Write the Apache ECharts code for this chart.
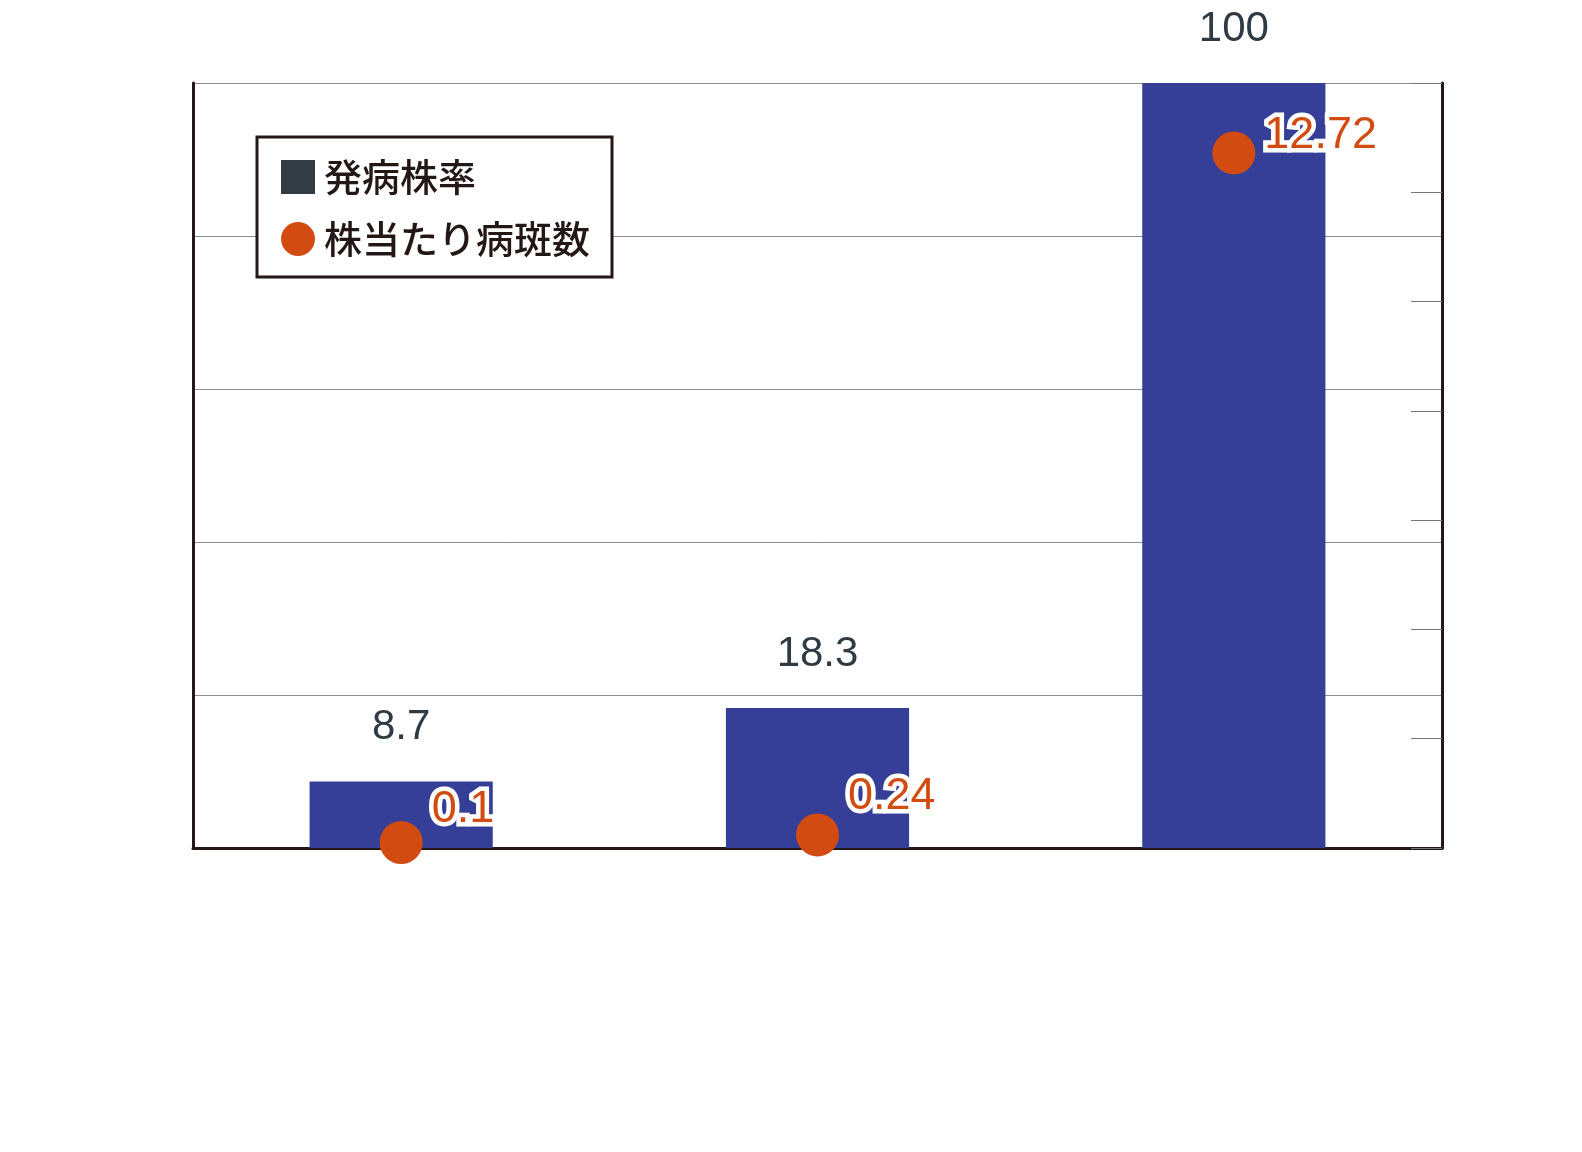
<!DOCTYPE html>
<html>
<head>
<meta charset="utf-8">
<script src="https://cdn.jsdelivr.net/npm/echarts@6/dist/echarts.min.js"></script>
<style>
html,body{margin:0;padding:0;background:#fff;}
#chart{width:1582px;height:1152px;}
</style>
</head>
<body>
<div id="chart"></div>
<script>
const categories = ['A', 'B', 'C'];
const barName = '発病株率';
const scatterName = '株当たり病斑数';
const barValues = [8.7, 18.3, 100];
const scatterValues = [0.1, 0.24, 12.72];
const leftAxisMax = 100, leftAxisInterval = 20;
const rightAxisMax = 14, rightAxisInterval = 2;

const labelLift = [-33, -38, -17];
const dark = '#231815';

const chart = echarts.init(document.getElementById('chart'));
chart.setOption({
  animation: false,
  backgroundColor: '#fff',
  grid: { left: 193, right: 140, top: 83, bottom: 304 },
  legend: {
    orient: 'vertical',
    left: 257, top: 137,
    padding: [21, 22, 19, 24],
    itemGap: 24,
    itemWidth: 34, itemHeight: 34,
    borderColor: dark, borderWidth: 3,
    backgroundColor: '#fff',
    textStyle: { fontSize: 38, fontWeight: 500, color: dark, fontFamily: 'Noto Sans CJK JP', padding: [0, 0, 0, 4] },
    data: [
      { name: barName, icon: 'rect', itemStyle: { color: '#333c44' } },
      { name: scatterName, icon: 'circle', itemStyle: { color: '#d24c12', opacity: 1 } }
    ],
    z: 10
  },
  xAxis: {
    type: 'category',
    data: categories,
    axisLine: { lineStyle: { color: dark, width: 3 } },
    axisTick: { show: false },
    axisLabel: { show: false },
    splitLine: { show: false }
  },
  yAxis: [
    {
      type: 'value', min: 0, max: leftAxisMax, interval: leftAxisInterval,
      axisLine: { show: true, lineStyle: { color: dark, width: 3 } },
      axisTick: { show: false },
      axisLabel: { show: false },
      splitLine: { show: true, lineStyle: { color: '#8c8c8c', width: 1 } }
    },
    {
      type: 'value', min: 0, max: rightAxisMax, interval: rightAxisInterval,
      position: 'right',
      axisLine: { show: true, lineStyle: { color: dark, width: 3 } },
      axisTick: { show: true, inside: true, length: 31, lineStyle: { color: '#777', width: 1 } },
      axisLabel: { show: false },
      splitLine: { show: false }
    }
  ],
  series: [
    {
      name: barName,
      type: 'bar',
      yAxisIndex: 0,
      data: barValues,
      barWidth: '44%',
      itemStyle: { color: '#353f98' },
      label: {
        show: true, position: 'top', distance: 33,
        fontSize: 42, color: '#2f3a43', fontFamily: 'Liberation Sans'
      },
      z: 2
    },
    {
      name: scatterName,
      type: 'scatter',
      yAxisIndex: 1,
      symbol: 'circle',
      symbolSize: 43,
      itemStyle: { color: '#d24c12', opacity: 1 },
      data: scatterValues.map((v, i) => ({ value: v, label: { offset: [0, labelLift[i]] } })),
      label: {
        show: true, position: 'right', distance: 9, opacity: 1,
        fontSize: 45, fontWeight: 'normal', color: '#d24c12', fontFamily: 'Liberation Sans',
        textBorderColor: '#fff', textBorderWidth: 9
      },
      z: 5
    }
  ]
});
</script>
</body>
</html>
